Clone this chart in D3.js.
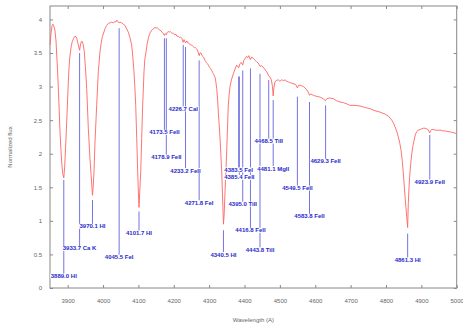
<!DOCTYPE html>
<html>
<head>
<meta charset="utf-8">
<script src="https://cdn.jsdelivr.net/npm/d3@7"></script>
<style>
  body { margin: 0; background: #fff; }
  text { font-family: "Liberation Sans", Arial, sans-serif; }
</style>
</head>
<body>
<script>
// spectrum (Angstrom / normalized flux)
const wavelength = [3850, 3853, 3856, 3858, 3861, 3864, 3867, 3869, 3871.5, 3873.5, 3876, 3878.3, 3881, 3883, 3886, 3889, 3891.5, 3894.4, 3898, 3901.8,
  3904, 3906.6, 3910, 3913, 3917, 3920.7, 3924, 3927.2, 3930, 3933.7, 3936, 3938.5, 3941.3, 3944, 3947, 3950, 3953.8, 3958.3, 3963, 3966,
  3968, 3970.1, 3972, 3974.4, 3977.3, 3982, 3986.6, 3991.4, 3995, 3998, 4005.5, 4010, 4015, 4020, 4024.5, 4029, 4033.8, 4036, 4038.6, 4041,
  4045.5, 4048, 4052.8, 4057, 4062, 4066, 4071.4, 4076, 4081, 4084, 4087.5, 4090, 4092.4, 4095.2, 4098, 4100, 4101.7, 4103.5, 4106.5, 4109.3,
  4112, 4115.8, 4118, 4121.5, 4125, 4128, 4132, 4137.6, 4142, 4147, 4150, 4153, 4156.3, 4160, 4164, 4168, 4171, 4173.5, 4176, 4178.9,
  4181, 4184, 4187, 4190, 4194, 4198.7, 4203, 4206, 4209, 4212.8, 4216, 4219, 4222.5, 4226.7, 4229, 4233.2, 4236.6, 4240, 4244, 4247,
  4250.7, 4254, 4258, 4261, 4264.9, 4268, 4271.8, 4274, 4277, 4280, 4284, 4288.4, 4292, 4295, 4297.7, 4301, 4304, 4307.3, 4310, 4313,
  4316.6, 4319, 4321.4, 4324, 4326, 4328.5, 4330.8, 4333, 4335.6, 4338, 4340.5, 4342.5, 4345, 4347.5, 4349.7, 4352, 4354, 4356.5, 4359, 4363,
  4368.4, 4373, 4378, 4383.5, 4387, 4391, 4395, 4398, 4402, 4406, 4409, 4412, 4416.8, 4420, 4425, 4430, 4434.5, 4439, 4443.8, 4448,
  4453, 4457, 4462.8, 4468.5, 4472, 4476, 4479, 4481.1, 4483, 4486, 4490, 4495.6, 4500, 4505, 4510, 4514.5, 4519, 4524, 4528, 4533.5,
  4540, 4545, 4549.5, 4553, 4557, 4562, 4566.4, 4571, 4576, 4580, 4583.8, 4587, 4594.6, 4600, 4608.8, 4615, 4622, 4629.3, 4633, 4640,
  4651, 4660, 4670, 4680, 4690, 4698, 4712, 4726.7, 4740, 4755, 4769, 4783, 4797.4, 4807, 4816.4, 4821, 4825.7, 4830, 4835, 4839,
  4842.6, 4846, 4849, 4852, 4854, 4856.5, 4858.8, 4861.3, 4863.2, 4865, 4867, 4870, 4873, 4876, 4879.5, 4883, 4887, 4891, 4896.4, 4901,
  4905.7, 4910, 4915.3, 4919, 4923.9, 4927, 4929.5, 4935, 4941, 4948, 4955, 4960, 4967, 4975, 4986, 4993, 5000]
const flux = [3.62, 3.80, 3.91, 3.93, 3.90, 3.84, 3.68, 3.47, 3.22, 2.98, 2.65, 2.33, 2.05, 1.88, 1.70, 1.64, 1.80, 2.13, 2.57, 3.07,
  3.30, 3.47, 3.60, 3.67, 3.72, 3.75, 3.74, 3.69, 3.62, 3.54, 3.62, 3.67, 3.67, 3.62, 3.52, 3.30, 2.97, 2.38, 1.93, 1.70,
  1.55, 1.38, 1.50, 1.73, 2.18, 2.72, 3.22, 3.52, 3.66, 3.74, 3.86, 3.91, 3.94, 3.95, 3.96, 3.95, 3.97, 3.96, 3.99, 3.97,
  3.95, 3.96, 3.95, 3.93, 3.91, 3.87, 3.81, 3.73, 3.62, 3.45, 3.22, 2.98, 2.72, 2.23, 1.73, 1.40, 1.20, 1.40, 1.73, 2.23,
  2.72, 3.22, 3.40, 3.52, 3.64, 3.72, 3.79, 3.84, 3.86, 3.88, 3.87, 3.88, 3.86, 3.84, 3.83, 3.80, 3.79, 3.76, 3.79, 3.77,
  3.80, 3.82, 3.81, 3.82, 3.80, 3.79, 3.77, 3.78, 3.75, 3.75, 3.73, 3.74, 3.72, 3.66, 3.70, 3.65, 3.68, 3.65, 3.64, 3.62,
  3.62, 3.60, 3.58, 3.58, 3.56, 3.53, 3.46, 3.50, 3.50, 3.46, 3.44, 3.39, 3.36, 3.34, 3.32, 3.29, 3.27, 3.24, 3.21, 3.18,
  3.14, 3.07, 2.97, 2.80, 2.62, 2.42, 2.23, 2.00, 1.73, 1.34, 0.95, 1.10, 1.45, 1.75, 2.05, 2.40, 2.70, 2.88, 3.00, 3.10,
  3.19, 3.26, 3.32, 3.28, 3.34, 3.36, 3.32, 3.39, 3.42, 3.45, 3.43, 3.46, 3.40, 3.44, 3.42, 3.39, 3.37, 3.35, 3.30, 3.31,
  3.29, 3.26, 3.22, 3.16, 3.14, 3.10, 3.00, 2.86, 2.98, 3.07, 3.09, 3.10, 3.08, 3.10, 3.09, 3.10, 3.08, 3.07, 3.06, 3.05,
  3.04, 3.03, 2.98, 3.02, 3.02, 3.01, 3.00, 2.98, 2.95, 2.92, 2.87, 2.89, 2.87, 2.86, 2.85, 2.84, 2.82, 2.79, 2.82, 2.83,
  2.82, 2.79, 2.77, 2.76, 2.74, 2.72, 2.72, 2.71, 2.69, 2.67, 2.64, 2.62, 2.59, 2.56, 2.50, 2.46, 2.40, 2.34, 2.25, 2.16,
  2.05, 1.90, 1.71, 1.50, 1.36, 1.20, 1.06, 0.90, 1.26, 1.48, 1.66, 1.85, 2.00, 2.11, 2.20, 2.28, 2.33, 2.35, 2.36, 2.37,
  2.38, 2.38, 2.37, 2.36, 2.31, 2.35, 2.36, 2.36, 2.35, 2.35, 2.35, 2.34, 2.34, 2.33, 2.32, 2.31, 2.30]

// line identifications
const lineWl = [3889.0, 3933.7, 3970.1, 4045.5, 4101.7, 4173.5, 4178.9, 4226.7, 4233.2, 4271.8, 4340.5, 4383.5,
  4385.4, 4395.0, 4416.8, 4443.8, 4468.5, 4481.1, 4549.5, 4583.8, 4629.3, 4861.3, 4923.9]
const lineName = ['HI', 'Ca K', 'HI', 'FeI', 'HI', 'FeII', 'FeII', 'CaI', 'FeII', 'FeI', 'HI', 'FeI',
  'FeII', 'TiII', 'FeII', 'TiII', 'TiII', 'MgII', 'FeII', 'FeII', 'FeII', 'HI', 'FeII']
// flux where each marker starts, and flux level of its label
const lineTop = [1.61, 3.50, 1.31, 3.87, 1.14, 3.72, 3.72, 3.62, 3.59, 3.39, 0.86, 3.15,
  3.15, 3.24, 3.27, 3.19, 3.10, 2.80, 2.85, 2.77, 2.72, 0.81, 2.28]
const lineLabel = [0.18, 0.59, 0.92, 0.46, 0.82, 2.32, 1.95, 2.67, 1.75, 1.27, 0.50, 1.76,
  1.65, 1.25, 0.86, 0.57, 2.19, 1.78, 1.49, 1.07, 1.89, 0.42, 1.58]

const xTicks = [3900, 4000, 4100, 4200, 4300, 4400, 4500, 4600, 4700, 4800, 4900, 5000]
const yTicks = [0, 0.5, 1, 1.5, 2, 2.5, 3, 3.5, 4]

const w = 463
const h = 325
const margin = { top: 6, right: 6.3, bottom: 37, left: 50 }
const iw = w - margin.left - margin.right
const ih = h - margin.top - margin.bottom

const svg = d3.select('body')
  .append('svg')
  .attr('width', w)
  .attr('height', h)

const g = svg.append('g')
  .attr('transform', `translate(${margin.left},${margin.top})`)

const x = d3.scaleLinear().domain([3850, 5000]).range([0, iw])
const y = d3.scaleLinear().domain([0, 4.2]).range([ih, 0])

// axes, gnuplot style: ticks pointing inwards on all four sides
function styleAxis(sel) {
  sel.select('.domain').remove()
  sel.selectAll('line').attr('stroke', '#888')
  sel.selectAll('text').attr('fill', '#666').style('font-size', '6px')
}

g.append('g')
  .attr('transform', `translate(0,${ih})`)
  .call(d3.axisBottom(x).tickValues(xTicks).tickSizeInner(-3).tickSizeOuter(0).tickPadding(11).tickFormat(d => d))
  .call(styleAxis)

g.append('g')
  .call(d3.axisTop(x).tickValues(xTicks).tickSizeInner(-3).tickSizeOuter(0).tickFormat(''))
  .call(styleAxis)

g.append('g')
  .call(d3.axisLeft(y).tickValues(yTicks).tickSizeInner(-3).tickSizeOuter(0).tickPadding(8).tickFormat(d => d))
  .call(styleAxis)

g.append('g')
  .attr('transform', `translate(${iw},0)`)
  .call(d3.axisRight(y).tickValues(yTicks).tickSizeInner(-3).tickSizeOuter(0).tickFormat(''))
  .call(styleAxis)

g.append('rect')
  .attr('width', iw)
  .attr('height', ih)
  .attr('fill', 'none')
  .attr('stroke', '#888')

// axis titles
svg.append('text')
  .attr('x', margin.left + iw / 2)
  .attr('y', 322)
  .attr('text-anchor', 'middle')
  .attr('fill', '#666')
  .style('font-size', '6px')
  .text('Wavelength (A)')

svg.append('text')
  .attr('transform', `translate(12,${margin.top + ih / 2}) rotate(-90)`)
  .attr('text-anchor', 'middle')
  .attr('fill', '#666')
  .style('font-size', '6px')
  .text('Normalized flux')

// spectrum
const pts = wavelength.map((d, i) => [d, flux[i]])

g.append('path')
  .datum(pts)
  .attr('fill', 'none')
  .attr('stroke', '#ff6464')
  .attr('stroke-width', 0.9)
  .attr('d', d3.line().x(d => x(d[0])).y(d => y(d[1])))

// markers and labels
const lines = lineWl.map((d, i) => ({ wl: d, name: lineName[i], top: lineTop[i], lab: lineLabel[i] }))

g.selectAll('.marker')
  .data(lines)
  .enter()
  .append('line')
  .attr('class', 'marker')
  .attr('x1', d => x(d.wl))
  .attr('x2', d => x(d.wl))
  .attr('y1', d => y(d.top))
  .attr('y2', d => y(d.lab))
  .attr('stroke', '#7474e0')
  .attr('stroke-width', 1)

const labels = g.selectAll('.label')
  .data(lines)
  .enter()
  .append('g')
  .attr('class', 'label')
  .attr('transform', d => `translate(${x(d.wl)},${y(d.lab)})`)

labels.append('text')
  .attr('text-anchor', 'middle')
  .attr('dy', '0.35em')
  .attr('fill', '#2a2acc')
  .style('font-size', '6px')
  .style('font-weight', 'bold')
  .text(d => d.wl.toFixed(1) + ' ' + d.name)

labels.each(function () {
  const b = d3.select(this).select('text').node().getBBox()
  d3.select(this).insert('rect', 'text')
    .attr('x', b.x - 0.5)
    .attr('y', b.y + 0.5)
    .attr('width', b.width + 1)
    .attr('height', b.height - 1)
    .attr('fill', '#fff')
})
</script>
</body>
</html>
